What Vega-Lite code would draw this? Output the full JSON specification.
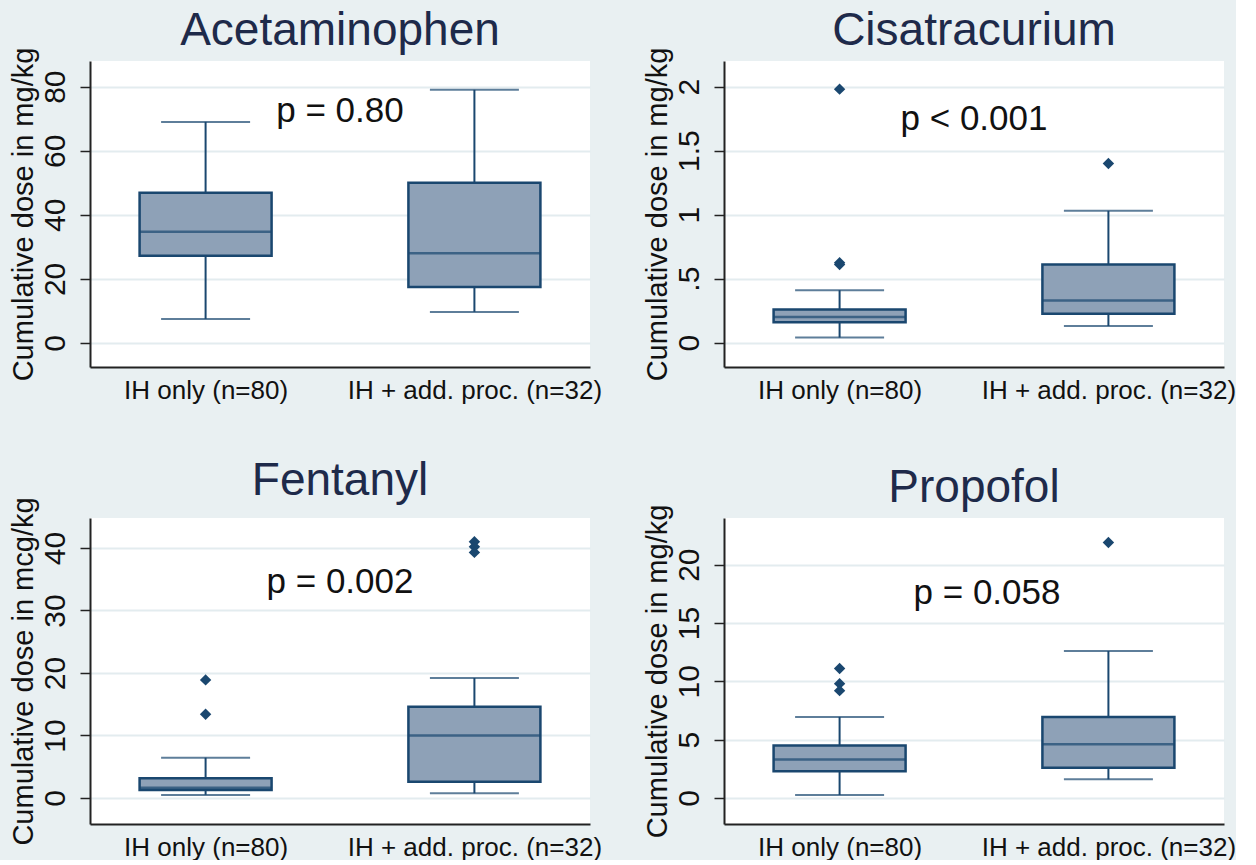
{
  "$schema": "https://vega.github.io/schema/vega-lite/v6.json",
  "background": "#E9F0F2",
  "padding": {"left": 8, "top": 8, "right": 0, "bottom": 0},
  "datasets": {
    "boxes": [
      {"drug": "Acetaminophen", "group": "IH only (n=80)", "lower": 7.5, "q1": 27.2, "median": 34.7, "q3": 46.9, "upper": 69},
      {"drug": "Acetaminophen", "group": "IH + add. proc. (n=32)", "lower": 9.7, "q1": 17.5, "median": 28, "q3": 50, "upper": 79},
      {"drug": "Cisatracurium", "group": "IH only (n=80)", "lower": 0.04, "q1": 0.16, "median": 0.2, "q3": 0.26, "upper": 0.41},
      {"drug": "Cisatracurium", "group": "IH + add. proc. (n=32)", "lower": 0.13, "q1": 0.225, "median": 0.33, "q3": 0.61, "upper": 1.03},
      {"drug": "Fentanyl", "group": "IH only (n=80)", "lower": 0.5, "q1": 1.3, "median": 1.65, "q3": 3.15, "upper": 6.45},
      {"drug": "Fentanyl", "group": "IH + add. proc. (n=32)", "lower": 0.75, "q1": 2.6, "median": 10.0, "q3": 14.6, "upper": 19.2},
      {"drug": "Propofol", "group": "IH only (n=80)", "lower": 0.26, "q1": 2.3, "median": 3.3, "q3": 4.5, "upper": 6.95},
      {"drug": "Propofol", "group": "IH + add. proc. (n=32)", "lower": 1.6, "q1": 2.6, "median": 4.6, "q3": 6.95, "upper": 12.6}
    ],
    "outliers": [
      {"drug": "Cisatracurium", "group": "IH only (n=80)", "value": 1.98},
      {"drug": "Cisatracurium", "group": "IH only (n=80)", "value": 0.625},
      {"drug": "Cisatracurium", "group": "IH only (n=80)", "value": 0.61},
      {"drug": "Cisatracurium", "group": "IH + add. proc. (n=32)", "value": 1.4},
      {"drug": "Fentanyl", "group": "IH only (n=80)", "value": 18.9},
      {"drug": "Fentanyl", "group": "IH only (n=80)", "value": 13.4},
      {"drug": "Fentanyl", "group": "IH + add. proc. (n=32)", "value": 41.0},
      {"drug": "Fentanyl", "group": "IH + add. proc. (n=32)", "value": 40.2},
      {"drug": "Fentanyl", "group": "IH + add. proc. (n=32)", "value": 39.3},
      {"drug": "Propofol", "group": "IH only (n=80)", "value": 11.1},
      {"drug": "Propofol", "group": "IH only (n=80)", "value": 9.8},
      {"drug": "Propofol", "group": "IH only (n=80)", "value": 9.2},
      {"drug": "Propofol", "group": "IH + add. proc. (n=32)", "value": 21.9}
    ],
    "pvals": [
      {"drug": "Acetaminophen", "label": "p = 0.80", "y": 72.5},
      {"drug": "Cisatracurium", "label": "p < 0.001", "y": 1.75},
      {"drug": "Fentanyl", "label": "p = 0.002", "y": 34.6},
      {"drug": "Propofol", "label": "p = 0.058", "y": 17.6}
    ]
  },
  "columns": 2,
  "bounds": "flush",
  "spacing": {"row": 151, "column": 134},
  "concat": [
    {
      "title": "Acetaminophen",
      "width": 500, "height": 306,
      "layer": [
        {"data": {"name": "boxes"}, "transform": [{"filter": {"field": "drug", "equal": "Acetaminophen"}}],
         "mark": {"type": "rule", "color": "#1A476F", "strokeWidth": 2},
         "encoding": {
           "x": {"field": "group", "type": "nominal", "sort": ["IH only (n=80)", "IH + add. proc. (n=32)"], "scale": {"type": "point", "padding": 0.43}, "axis": {"title": null}},
           "y": {"field": "lower", "type": "quantitative", "title": "Cumulative dose in mg/kg", "scale": {"domain": [-7.5, 88], "nice": false, "zero": false}, "axis": {"values": [0, 20, 40, 60, 80]}},
           "y2": {"field": "upper"}}},
        {"data": {"name": "boxes"}, "transform": [{"filter": {"field": "drug", "equal": "Acetaminophen"}}],
         "mark": {"type": "tick", "color": "#1A476F", "size": 89, "thickness": 2},
         "encoding": {
           "x": {"field": "group", "type": "nominal", "sort": ["IH only (n=80)", "IH + add. proc. (n=32)"], "scale": {"type": "point", "padding": 0.43}, "axis": {"title": null}},
           "y": {"field": "lower", "type": "quantitative", "title": "Cumulative dose in mg/kg", "scale": {"domain": [-7.5, 88], "nice": false, "zero": false}}}},
        {"data": {"name": "boxes"}, "transform": [{"filter": {"field": "drug", "equal": "Acetaminophen"}}],
         "mark": {"type": "tick", "color": "#1A476F", "size": 89, "thickness": 2},
         "encoding": {
           "x": {"field": "group", "type": "nominal", "sort": ["IH only (n=80)", "IH + add. proc. (n=32)"], "scale": {"type": "point", "padding": 0.43}, "axis": {"title": null}},
           "y": {"field": "upper", "type": "quantitative", "title": "Cumulative dose in mg/kg", "scale": {"domain": [-7.5, 88], "nice": false, "zero": false}}}},
        {"data": {"name": "boxes"}, "transform": [{"filter": {"field": "drug", "equal": "Acetaminophen"}}],
         "mark": {"type": "bar", "width": 132, "fill": "#8EA1B7", "stroke": "#1A476F", "strokeWidth": 2.5},
         "encoding": {
           "x": {"field": "group", "type": "nominal", "sort": ["IH only (n=80)", "IH + add. proc. (n=32)"], "scale": {"type": "point", "padding": 0.43}, "axis": {"title": null}},
           "y": {"field": "q1", "type": "quantitative", "title": "Cumulative dose in mg/kg", "scale": {"domain": [-7.5, 88], "nice": false, "zero": false}},
           "y2": {"field": "q3"}}},
        {"data": {"name": "boxes"}, "transform": [{"filter": {"field": "drug", "equal": "Acetaminophen"}}],
         "mark": {"type": "tick", "color": "#1A476F", "size": 132, "thickness": 2.5},
         "encoding": {
           "x": {"field": "group", "type": "nominal", "sort": ["IH only (n=80)", "IH + add. proc. (n=32)"], "scale": {"type": "point", "padding": 0.43}, "axis": {"title": null}},
           "y": {"field": "median", "type": "quantitative", "title": "Cumulative dose in mg/kg", "scale": {"domain": [-7.5, 88], "nice": false, "zero": false}}}},
        {"data": {"name": "pvals"}, "transform": [{"filter": {"field": "drug", "equal": "Acetaminophen"}}],
         "mark": {"type": "text", "fontSize": 35, "color": "#111111", "baseline": "middle"},
         "encoding": {
           "y": {"field": "y", "type": "quantitative", "title": "Cumulative dose in mg/kg", "scale": {"domain": [-7.5, 88], "nice": false, "zero": false}},
           "text": {"field": "label"}}}
      ]
    },
    {
      "title": "Cisatracurium",
      "width": 500, "height": 306,
      "layer": [
        {"data": {"name": "boxes"}, "transform": [{"filter": {"field": "drug", "equal": "Cisatracurium"}}],
         "mark": {"type": "rule", "color": "#1A476F", "strokeWidth": 2},
         "encoding": {
           "x": {"field": "group", "type": "nominal", "sort": ["IH only (n=80)", "IH + add. proc. (n=32)"], "scale": {"type": "point", "padding": 0.43}, "axis": {"title": null}},
           "y": {"field": "lower", "type": "quantitative", "title": "Cumulative dose in mg/kg", "scale": {"domain": [-0.19, 2.2], "nice": false, "zero": false}, "axis": {"values": [0, 0.5, 1, 1.5, 2], "labelExpr": "datum.value == 0.5 ? '.5' : format(datum.value, '')"}},
           "y2": {"field": "upper"}}},
        {"data": {"name": "boxes"}, "transform": [{"filter": {"field": "drug", "equal": "Cisatracurium"}}],
         "mark": {"type": "tick", "color": "#1A476F", "size": 89, "thickness": 2},
         "encoding": {
           "x": {"field": "group", "type": "nominal", "sort": ["IH only (n=80)", "IH + add. proc. (n=32)"], "scale": {"type": "point", "padding": 0.43}, "axis": {"title": null}},
           "y": {"field": "lower", "type": "quantitative", "title": "Cumulative dose in mg/kg", "scale": {"domain": [-0.19, 2.2], "nice": false, "zero": false}}}},
        {"data": {"name": "boxes"}, "transform": [{"filter": {"field": "drug", "equal": "Cisatracurium"}}],
         "mark": {"type": "tick", "color": "#1A476F", "size": 89, "thickness": 2},
         "encoding": {
           "x": {"field": "group", "type": "nominal", "sort": ["IH only (n=80)", "IH + add. proc. (n=32)"], "scale": {"type": "point", "padding": 0.43}, "axis": {"title": null}},
           "y": {"field": "upper", "type": "quantitative", "title": "Cumulative dose in mg/kg", "scale": {"domain": [-0.19, 2.2], "nice": false, "zero": false}}}},
        {"data": {"name": "boxes"}, "transform": [{"filter": {"field": "drug", "equal": "Cisatracurium"}}],
         "mark": {"type": "bar", "width": 132, "fill": "#8EA1B7", "stroke": "#1A476F", "strokeWidth": 2.5},
         "encoding": {
           "x": {"field": "group", "type": "nominal", "sort": ["IH only (n=80)", "IH + add. proc. (n=32)"], "scale": {"type": "point", "padding": 0.43}, "axis": {"title": null}},
           "y": {"field": "q1", "type": "quantitative", "title": "Cumulative dose in mg/kg", "scale": {"domain": [-0.19, 2.2], "nice": false, "zero": false}},
           "y2": {"field": "q3"}}},
        {"data": {"name": "boxes"}, "transform": [{"filter": {"field": "drug", "equal": "Cisatracurium"}}],
         "mark": {"type": "tick", "color": "#1A476F", "size": 132, "thickness": 2.5},
         "encoding": {
           "x": {"field": "group", "type": "nominal", "sort": ["IH only (n=80)", "IH + add. proc. (n=32)"], "scale": {"type": "point", "padding": 0.43}, "axis": {"title": null}},
           "y": {"field": "median", "type": "quantitative", "title": "Cumulative dose in mg/kg", "scale": {"domain": [-0.19, 2.2], "nice": false, "zero": false}}}},
        {"data": {"name": "outliers"}, "transform": [{"filter": {"field": "drug", "equal": "Cisatracurium"}}],
         "mark": {"type": "point", "shape": "diamond", "filled": true, "color": "#1A476F", "size": 130, "opacity": 1},
         "encoding": {
           "x": {"field": "group", "type": "nominal", "sort": ["IH only (n=80)", "IH + add. proc. (n=32)"], "scale": {"type": "point", "padding": 0.43}, "axis": {"title": null}},
           "y": {"field": "value", "type": "quantitative", "title": "Cumulative dose in mg/kg", "scale": {"domain": [-0.19, 2.2], "nice": false, "zero": false}}}},
        {"data": {"name": "pvals"}, "transform": [{"filter": {"field": "drug", "equal": "Cisatracurium"}}],
         "mark": {"type": "text", "fontSize": 35, "color": "#111111", "baseline": "middle"},
         "encoding": {
           "y": {"field": "y", "type": "quantitative", "title": "Cumulative dose in mg/kg", "scale": {"domain": [-0.19, 2.2], "nice": false, "zero": false}},
           "text": {"field": "label"}}}
      ]
    },
    {
      "title": "Fentanyl",
      "width": 500, "height": 306,
      "layer": [
        {"data": {"name": "boxes"}, "transform": [{"filter": {"field": "drug", "equal": "Fentanyl"}}],
         "mark": {"type": "rule", "color": "#1A476F", "strokeWidth": 2},
         "encoding": {
           "x": {"field": "group", "type": "nominal", "sort": ["IH only (n=80)", "IH + add. proc. (n=32)"], "scale": {"type": "point", "padding": 0.43}, "axis": {"title": null}},
           "y": {"field": "lower", "type": "quantitative", "title": "Cumulative dose in mcg/kg", "scale": {"domain": [-4.16, 44.8], "nice": false, "zero": false}, "axis": {"values": [0, 10, 20, 30, 40]}},
           "y2": {"field": "upper"}}},
        {"data": {"name": "boxes"}, "transform": [{"filter": {"field": "drug", "equal": "Fentanyl"}}],
         "mark": {"type": "tick", "color": "#1A476F", "size": 89, "thickness": 2},
         "encoding": {
           "x": {"field": "group", "type": "nominal", "sort": ["IH only (n=80)", "IH + add. proc. (n=32)"], "scale": {"type": "point", "padding": 0.43}, "axis": {"title": null}},
           "y": {"field": "lower", "type": "quantitative", "title": "Cumulative dose in mcg/kg", "scale": {"domain": [-4.16, 44.8], "nice": false, "zero": false}}}},
        {"data": {"name": "boxes"}, "transform": [{"filter": {"field": "drug", "equal": "Fentanyl"}}],
         "mark": {"type": "tick", "color": "#1A476F", "size": 89, "thickness": 2},
         "encoding": {
           "x": {"field": "group", "type": "nominal", "sort": ["IH only (n=80)", "IH + add. proc. (n=32)"], "scale": {"type": "point", "padding": 0.43}, "axis": {"title": null}},
           "y": {"field": "upper", "type": "quantitative", "title": "Cumulative dose in mcg/kg", "scale": {"domain": [-4.16, 44.8], "nice": false, "zero": false}}}},
        {"data": {"name": "boxes"}, "transform": [{"filter": {"field": "drug", "equal": "Fentanyl"}}],
         "mark": {"type": "bar", "width": 132, "fill": "#8EA1B7", "stroke": "#1A476F", "strokeWidth": 2.5},
         "encoding": {
           "x": {"field": "group", "type": "nominal", "sort": ["IH only (n=80)", "IH + add. proc. (n=32)"], "scale": {"type": "point", "padding": 0.43}, "axis": {"title": null}},
           "y": {"field": "q1", "type": "quantitative", "title": "Cumulative dose in mcg/kg", "scale": {"domain": [-4.16, 44.8], "nice": false, "zero": false}},
           "y2": {"field": "q3"}}},
        {"data": {"name": "boxes"}, "transform": [{"filter": {"field": "drug", "equal": "Fentanyl"}}],
         "mark": {"type": "tick", "color": "#1A476F", "size": 132, "thickness": 2.5},
         "encoding": {
           "x": {"field": "group", "type": "nominal", "sort": ["IH only (n=80)", "IH + add. proc. (n=32)"], "scale": {"type": "point", "padding": 0.43}, "axis": {"title": null}},
           "y": {"field": "median", "type": "quantitative", "title": "Cumulative dose in mcg/kg", "scale": {"domain": [-4.16, 44.8], "nice": false, "zero": false}}}},
        {"data": {"name": "outliers"}, "transform": [{"filter": {"field": "drug", "equal": "Fentanyl"}}],
         "mark": {"type": "point", "shape": "diamond", "filled": true, "color": "#1A476F", "size": 130, "opacity": 1},
         "encoding": {
           "x": {"field": "group", "type": "nominal", "sort": ["IH only (n=80)", "IH + add. proc. (n=32)"], "scale": {"type": "point", "padding": 0.43}, "axis": {"title": null}},
           "y": {"field": "value", "type": "quantitative", "title": "Cumulative dose in mcg/kg", "scale": {"domain": [-4.16, 44.8], "nice": false, "zero": false}}}},
        {"data": {"name": "pvals"}, "transform": [{"filter": {"field": "drug", "equal": "Fentanyl"}}],
         "mark": {"type": "text", "fontSize": 35, "color": "#111111", "baseline": "middle"},
         "encoding": {
           "y": {"field": "y", "type": "quantitative", "title": "Cumulative dose in mcg/kg", "scale": {"domain": [-4.16, 44.8], "nice": false, "zero": false}},
           "text": {"field": "label"}}}
      ]
    },
    {
      "title": "Propofol",
      "width": 500, "height": 306,
      "layer": [
        {"data": {"name": "boxes"}, "transform": [{"filter": {"field": "drug", "equal": "Propofol"}}],
         "mark": {"type": "rule", "color": "#1A476F", "strokeWidth": 2},
         "encoding": {
           "x": {"field": "group", "type": "nominal", "sort": ["IH only (n=80)", "IH + add. proc. (n=32)"], "scale": {"type": "point", "padding": 0.43}, "axis": {"title": null}},
           "y": {"field": "lower", "type": "quantitative", "title": "Cumulative dose in mg/kg", "scale": {"domain": [-2.23, 24.0], "nice": false, "zero": false}, "axis": {"values": [0, 5, 10, 15, 20]}},
           "y2": {"field": "upper"}}},
        {"data": {"name": "boxes"}, "transform": [{"filter": {"field": "drug", "equal": "Propofol"}}],
         "mark": {"type": "tick", "color": "#1A476F", "size": 89, "thickness": 2},
         "encoding": {
           "x": {"field": "group", "type": "nominal", "sort": ["IH only (n=80)", "IH + add. proc. (n=32)"], "scale": {"type": "point", "padding": 0.43}, "axis": {"title": null}},
           "y": {"field": "lower", "type": "quantitative", "title": "Cumulative dose in mg/kg", "scale": {"domain": [-2.23, 24.0], "nice": false, "zero": false}}}},
        {"data": {"name": "boxes"}, "transform": [{"filter": {"field": "drug", "equal": "Propofol"}}],
         "mark": {"type": "tick", "color": "#1A476F", "size": 89, "thickness": 2},
         "encoding": {
           "x": {"field": "group", "type": "nominal", "sort": ["IH only (n=80)", "IH + add. proc. (n=32)"], "scale": {"type": "point", "padding": 0.43}, "axis": {"title": null}},
           "y": {"field": "upper", "type": "quantitative", "title": "Cumulative dose in mg/kg", "scale": {"domain": [-2.23, 24.0], "nice": false, "zero": false}}}},
        {"data": {"name": "boxes"}, "transform": [{"filter": {"field": "drug", "equal": "Propofol"}}],
         "mark": {"type": "bar", "width": 132, "fill": "#8EA1B7", "stroke": "#1A476F", "strokeWidth": 2.5},
         "encoding": {
           "x": {"field": "group", "type": "nominal", "sort": ["IH only (n=80)", "IH + add. proc. (n=32)"], "scale": {"type": "point", "padding": 0.43}, "axis": {"title": null}},
           "y": {"field": "q1", "type": "quantitative", "title": "Cumulative dose in mg/kg", "scale": {"domain": [-2.23, 24.0], "nice": false, "zero": false}},
           "y2": {"field": "q3"}}},
        {"data": {"name": "boxes"}, "transform": [{"filter": {"field": "drug", "equal": "Propofol"}}],
         "mark": {"type": "tick", "color": "#1A476F", "size": 132, "thickness": 2.5},
         "encoding": {
           "x": {"field": "group", "type": "nominal", "sort": ["IH only (n=80)", "IH + add. proc. (n=32)"], "scale": {"type": "point", "padding": 0.43}, "axis": {"title": null}},
           "y": {"field": "median", "type": "quantitative", "title": "Cumulative dose in mg/kg", "scale": {"domain": [-2.23, 24.0], "nice": false, "zero": false}}}},
        {"data": {"name": "outliers"}, "transform": [{"filter": {"field": "drug", "equal": "Propofol"}}],
         "mark": {"type": "point", "shape": "diamond", "filled": true, "color": "#1A476F", "size": 130, "opacity": 1},
         "encoding": {
           "x": {"field": "group", "type": "nominal", "sort": ["IH only (n=80)", "IH + add. proc. (n=32)"], "scale": {"type": "point", "padding": 0.43}, "axis": {"title": null}},
           "y": {"field": "value", "type": "quantitative", "title": "Cumulative dose in mg/kg", "scale": {"domain": [-2.23, 24.0], "nice": false, "zero": false}}}},
        {"data": {"name": "pvals"}, "transform": [{"filter": {"field": "drug", "equal": "Propofol"}}],
         "mark": {"type": "text", "fontSize": 35, "color": "#111111", "baseline": "middle", "dx": 13},
         "encoding": {
           "y": {"field": "y", "type": "quantitative", "title": "Cumulative dose in mg/kg", "scale": {"domain": [-2.23, 24.0], "nice": false, "zero": false}},
           "text": {"field": "label"}}}
      ]
    }
  ],
  "config": {
    "font": "Liberation Sans",
    "view": {"fill": "#FFFFFF", "stroke": null},
    "axis": {
      "domainColor": "#222222", "domainWidth": 2,
      "tickColor": "#222222", "tickWidth": 1.5,
      "gridColor": "#E3ECEF", "gridWidth": 2,
      "labelColor": "#111111", "titleColor": "#111111",
      "labelFont": "Liberation Sans", "titleFont": "Liberation Sans",
      "titleFontWeight": "normal"
    },
    "axisY": {
      "labelAngle": -90, "labelAlign": "center", "labelBaseline": "bottom",
      "labelFontSize": 30, "tickSize": 10, "labelPadding": 10,
      "titleFontSize": 29, "titlePadding": 2, "grid": true
    },
    "axisX": {
      "labelAngle": 0, "labelFontSize": 26, "labelLimit": 0, "ticks": false, "grid": false, "labelPadding": 10
    },
    "title": {
      "fontSize": 46, "font": "Liberation Sans", "fontWeight": "normal",
      "color": "#1E2A4A", "anchor": "middle", "offset": -8, "frame": "group"
    }
  }
}
